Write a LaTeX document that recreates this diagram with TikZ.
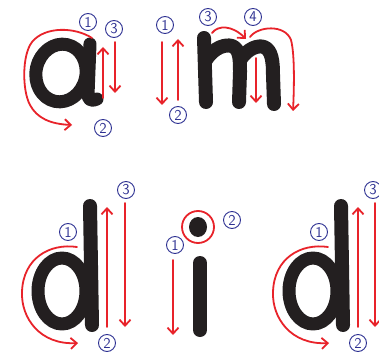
\documentclass[tikz,border=0pt]{standalone}
\usetikzlibrary{arrows.meta}
\definecolor{ink}{HTML}{231F20}
\definecolor{rd}{HTML}{E8232A}
\definecolor{bl}{HTML}{2E3192}
\tikzset{
  letter/.style={draw=ink, line width=13pt, line cap=round, line join=round},
  guide/.style={draw=rd, line width=1.8pt, line cap=round, -{Straight Barb[length=6pt,width=11pt,line width=1.8pt]}},
  num/.style={circle, draw=bl, line width=0.9pt, text=bl, inner sep=0pt, minimum size=17pt, font=\sffamily\fontsize{15}{15}\selectfont},
}
\begin{document}
\begin{tikzpicture}[x=1pt,y=-1pt]
\useasboundingbox[fill=white] (0,0) rectangle (379,355);

% ---------- a ----------
\draw[letter, rotate around={-12:(61,73)}] (61,73) ellipse [x radius=25, y radius=29];
\draw[letter] (90,44) -- (88,95) .. controls (88,101) and (93,101) .. (97,99);
\draw[guide] (92,38) .. controls (75,27) and (45,26) .. (32,42) .. controls (22,55) and (22,90) .. (30,105) .. controls (37,118) and (50,124) .. (72,125);
\draw[guide] (103,98) -- (103,47);
\draw[guide] (115,42) -- (115,93);
\node[num] (a1) at (88,22) {1};
\node[num] (a2) at (103,128) {2};
\node[num] (a3) at (114,29) {3};

% ---------- m ----------
\draw[letter, line width=14pt] (204,38) -- (206,102);
\draw[letter, line width=14pt] (206,60) .. controls (214,47) and (226,44) .. (232,46) .. controls (240,49) and (240,60) .. (240,72) -- (239,102);
\draw[letter, line width=14pt] (240,60) .. controls (248,48) and (258,45) .. (264,47) .. controls (272,50) and (273,62) .. (273,75) -- (274,104);
\draw[guide] (162,42) -- (162,105);
\draw[guide] (178,100) -- (178,39);
\draw[guide] (212,33) .. controls (218,25) and (232,25) .. (246,39);
\draw[guide] (250,37) .. controls (258,26) and (285,24) .. (291,40) .. controls (295,55) and (294,90) .. (293,111);
\draw[guide] (256,58) -- (256,103);
\node[num] (m1) at (165,25) {1};
\node[num] (m2) at (178,115) {2};
\node[num] (m3) at (208,17) {3};
\node[num] (m4) at (253,17) {4};

% ---------- d (left) ----------
\draw[letter] (62,291) ellipse [x radius=24, y radius=33];
\draw[letter, line width=14pt] (90,206) -- (92,325);
\draw[guide] (77,247) .. controls (50,243) and (23,258) .. (22,292) .. controls (21,318) and (40,345) .. (78,343);
\draw[guide] (107,327) -- (107,207);
\draw[guide] (125,203) -- (125,327);
\node[num] (d1) at (68,232) {1};
\node[num] (d2) at (107,343) {2};
\node[num] (d3) at (126,190) {3};

% ---------- i ----------
\fill[ink] (198,227) ellipse [x radius=9, y radius=10];
\draw[rd, line width=1.8pt] (198,227) circle [radius=16];
\draw[letter, line width=14pt] (200,263) -- (200,330);
\draw[guide] (173,260) -- (173,335);
\node[num] (i1) at (175,245) {1};
\node[num] (i2) at (232,220) {2};

% ---------- d (right) ----------
\begin{scope}[xshift=251pt]
\draw[letter] (62,291) ellipse [x radius=24, y radius=33];
\draw[letter, line width=14pt] (90,206) -- (92,325);
\draw[guide] (77,247) .. controls (50,243) and (23,258) .. (22,292) .. controls (21,318) and (40,345) .. (78,343);
\draw[guide] (107,327) -- (107,207);
\draw[guide] (124,203) -- (124,327);
\node[num] (e1) at (68,232) {1};
\node[num] (e2) at (107,343) {2};
\node[num] (e3) at (122,190) {3};
\end{scope}
\end{tikzpicture}
\end{document}
